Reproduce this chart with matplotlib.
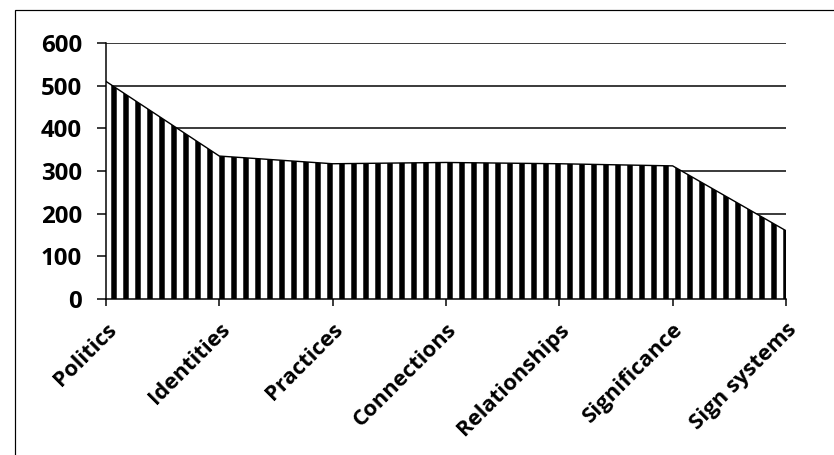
import numpy as np
import matplotlib
matplotlib.use("Agg")
import matplotlib.pyplot as plt
from matplotlib.patches import Rectangle

categories = ["Politics", "Identities", "Practices", "Connections",
              "Relationships", "Significance", "Sign systems"]
values = [510, 335, 317, 320, 317, 312, 160]
y_ticks = [0, 100, 200, 300, 400, 500, 600]

DPI = 72
plt.rcParams['hatch.linewidth'] = 5.5
plt.rcParams['hatch.color'] = 'black'
plt.rcParams['font.family'] = ['Open Sans', 'DejaVu Sans']

fig = plt.figure(figsize=(834 / DPI, 455 / DPI), dpi=DPI)
fig.patch.set_facecolor('white')

# outer chart frame (right and bottom edges cut off in the original)
fig.patches.append(Rectangle((15 / 834, -0.1), 1.2, (455 - 10) / 455 + 0.1,
                             transform=fig.transFigure, fill=False,
                             edgecolor='black', linewidth=1.2))

ax = fig.add_axes([106 / 834, (455 - 299) / 455, (786 - 106) / 834, (299 - 43) / 455])
x = np.arange(len(categories))

ax.fill_between(x, 0, values, facecolor='white', edgecolor='black',
                hatch='|', linewidth=0, zorder=2)
ax.plot(x, values, color='black', linewidth=1.4, zorder=3)

ax.set_xlim(0, len(categories) - 1)
ax.set_ylim(0, 600)
ax.set_yticks(y_ticks)
ax.set_xticks(x)
ax.set_xticklabels(categories, rotation=45, ha='right', rotation_mode='anchor',
                   fontsize=22, fontweight='bold')
ax.set_yticklabels([str(v) for v in y_ticks], fontsize=24, fontweight='bold')

ax.yaxis.grid(True, color='black', linewidth=1.5)
ax.set_axisbelow(True)
ax.spines['top'].set_visible(False)
ax.spines['right'].set_visible(False)
ax.spines['left'].set_linewidth(1.5)
ax.spines['bottom'].set_linewidth(1.5)
ax.tick_params(axis='y', length=9, width=1.5, pad=15)
ax.tick_params(axis='x', length=7, width=1.5, pad=13)

fig.savefig("out.png", dpi=DPI)
